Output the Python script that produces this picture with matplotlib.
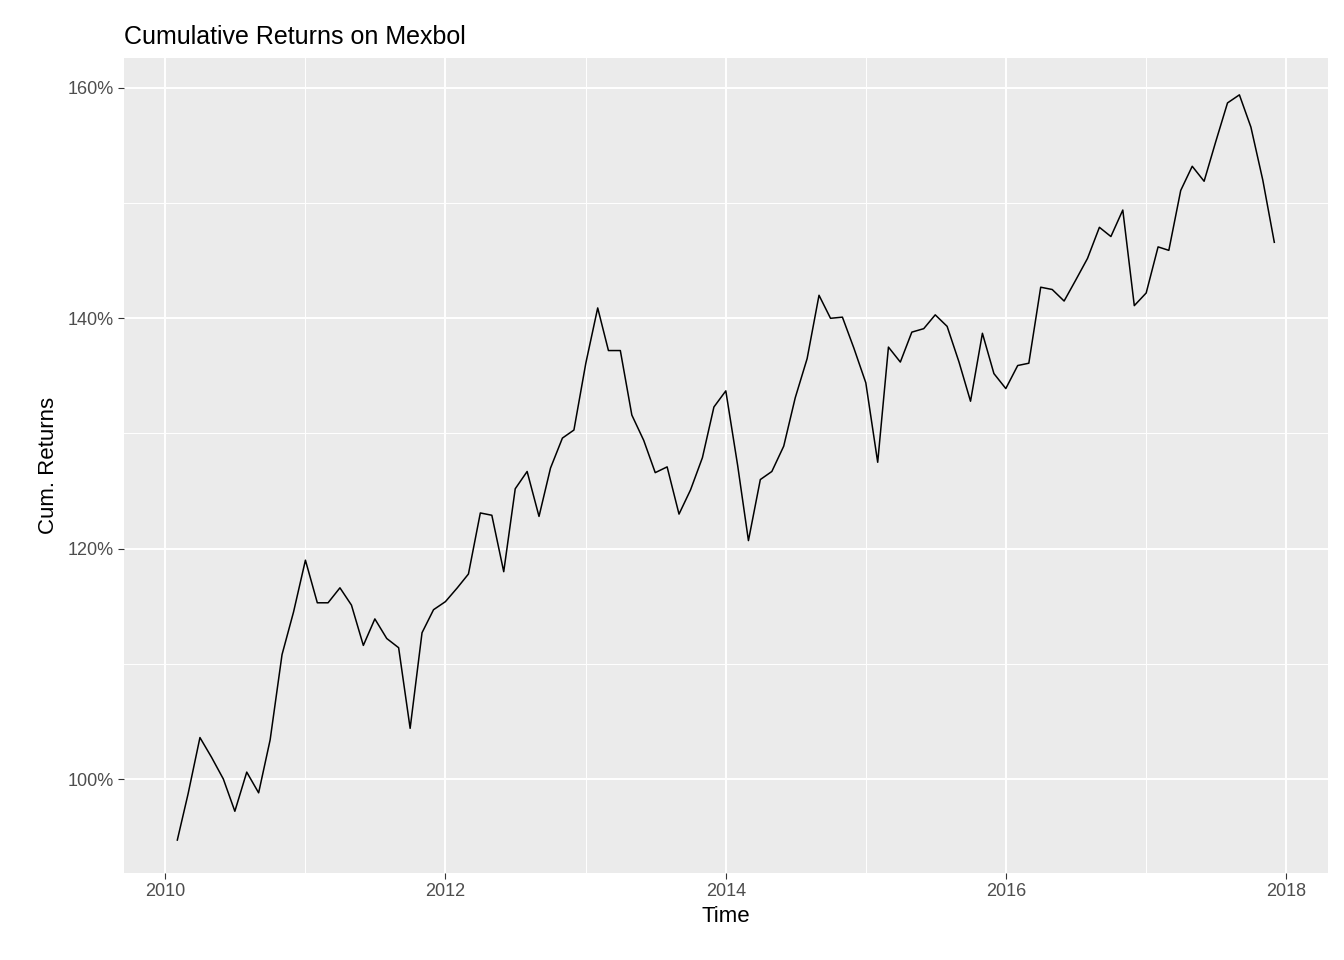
import pandas as pd
import matplotlib.pyplot as plt
import matplotlib.dates as mdates
from matplotlib.ticker import FuncFormatter, MultipleLocator

plt.rcParams['font.family'] = ['Liberation Sans', 'DejaVu Sans']

# Cumulative returns on Mexbol, monthly (Feb 2010 - Dec 2017), in %
cum_returns = [
    94.7, 98.7, 103.6, 101.9, 100.0, 97.2, 100.6, 98.8, 103.4, 110.8, 114.5, 119.0,
    115.3, 115.3, 116.6, 115.1, 111.6, 113.9, 112.2, 111.4, 104.4, 112.7, 114.7, 115.4,
    116.6, 117.8, 123.1, 122.9, 118.0, 125.2, 126.7, 122.8, 127.0, 129.6, 130.3, 136.1,
    140.9, 137.2, 137.2, 131.6, 129.4, 126.6, 127.1, 123.0, 125.1, 127.9, 132.3, 133.7,
    127.2, 120.7, 126.0, 126.7, 128.9, 133.1, 136.5, 142.0, 140.0, 140.1, 137.4, 134.4,
    127.5, 137.5, 136.2, 138.8, 139.1, 140.3, 139.3, 136.2, 132.8, 138.7, 135.2, 133.9,
    135.9, 136.1, 142.7, 142.5, 141.5, 143.3, 145.2, 147.9, 147.1, 149.4, 141.1, 142.2,
    146.2, 145.9, 151.1, 153.2, 151.9, 155.3, 158.7, 159.4, 156.6, 152.0, 146.6,
]
dates = pd.date_range('2010-02-01', periods=len(cum_returns), freq='MS')
df = pd.DataFrame({'Time': dates, 'CumRet': cum_returns})

fig = plt.figure(figsize=(13.44, 9.6), dpi=100)
ax = fig.add_axes([124 / 1344, 1 - 873 / 960, (1328 - 124) / 1344, (873 - 58) / 960])
ax.set_facecolor('#EBEBEB')

ax.plot(df['Time'], df['CumRet'], color='black', linewidth=1.1, zorder=3)

major_years = [mdates.date2num(pd.Timestamp(f'{y}-01-01')) for y in range(2010, 2019, 2)]
minor_years = [mdates.date2num(pd.Timestamp(f'{y}-01-01')) for y in range(2011, 2018, 2)]
ax.set_xticks(major_years)
ax.set_xticklabels([str(y) for y in range(2010, 2019, 2)])
ax.set_xticks(minor_years, minor=True)
ax.set_xlim(mdates.date2num(pd.Timestamp('2009-09-15')), mdates.date2num(pd.Timestamp('2018-04-20')))
ax.set_ylim(91.84, 162.6)

ax.yaxis.set_major_locator(MultipleLocator(20))
ax.yaxis.set_minor_locator(MultipleLocator(10))
ax.yaxis.set_major_formatter(FuncFormatter(lambda v, p: f'{v:.0f}%'))

ax.grid(which='major', color='white', linewidth=1.4)
ax.grid(which='minor', color='white', linewidth=0.7)
ax.set_axisbelow(True)
for s in ax.spines.values():
    s.set_visible(False)
ax.tick_params(which='major', length=4, color='#333333', labelsize=13, labelcolor='#4D4D4D')
ax.tick_params(which='minor', length=0)

ax.set_xlabel('Time', fontsize=16, labelpad=4)
ax.set_ylabel('Cum. Returns', fontsize=16, labelpad=6)
ax.set_title('Cumulative Returns on Mexbol', fontsize=18, loc='left', pad=10)

fig.savefig('out.png', dpi=100)
